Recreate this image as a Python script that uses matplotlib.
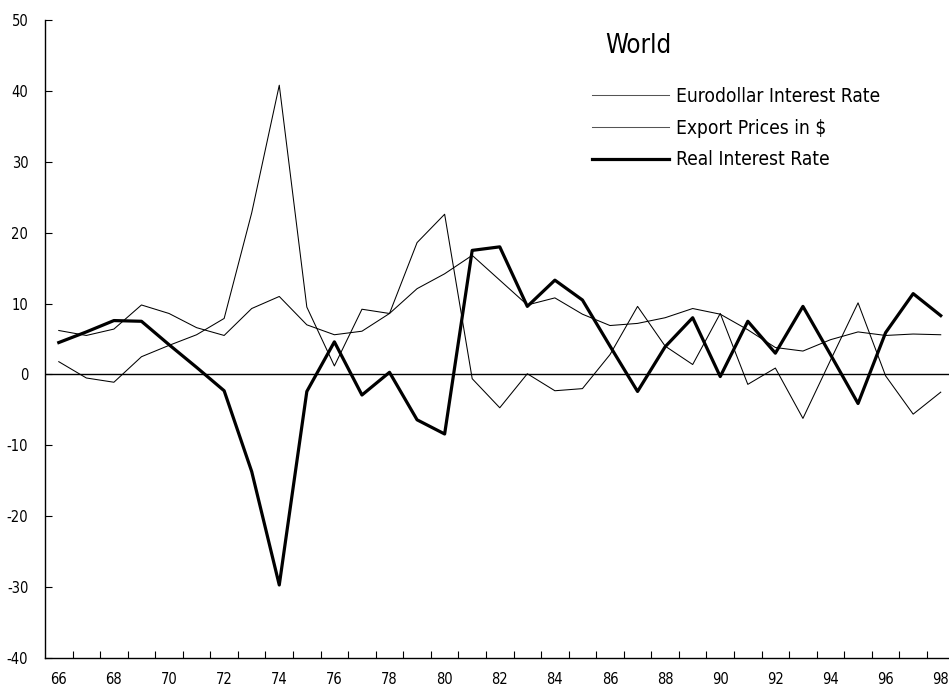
import matplotlib
matplotlib.use("Agg")
import matplotlib.pyplot as plt
from matplotlib.ticker import FixedLocator, MultipleLocator

plt.rcParams['font.family'] = ['DejaVu Sans']
plt.rcParams['font.stretch'] = 'condensed'
plt.rcParams['axes.unicode_minus'] = False

years = list(range(66, 99))
eurodollar = [6.2, 5.5, 6.4, 9.8, 8.6, 6.6, 5.5, 9.3, 11.0, 7.0, 5.6, 6.1, 8.6, 12.1, 14.2, 16.8,
              13.3, 9.8, 10.8, 8.5, 6.9, 7.2, 8.0, 9.3, 8.5, 6.3, 3.8, 3.3, 4.9, 6.0, 5.5, 5.7, 5.6]
export_prices = [1.8, -0.5, -1.1, 2.5, 4.1, 5.6, 7.9, 22.8, 40.8, 9.5, 1.2, 9.2, 8.6, 18.6, 22.6, -0.6,
                 -4.7, 0.1, -2.3, -2.0, 2.8, 9.6, 4.0, 1.4, 8.6, -1.4, 0.9, -6.2, 2.0, 10.1, -0.2, -5.6, -2.5]
real_rate = [4.5, 6.0, 7.6, 7.5, 4.2, 1.0, -2.3, -13.7, -29.7, -2.4, 4.6, -2.9, 0.3, -6.4, -8.4, 17.5,
             18.0, 9.6, 13.3, 10.5, 4.0, -2.4, 3.9, 8.0, -0.3, 7.5, 3.0, 9.6, 2.8, -4.1, 5.9, 11.4, 8.3]
labels = ['Eurodollar Interest Rate', 'Export Prices in $', 'Real Interest Rate']
title = 'World'

W, H = 949, 691
fig = plt.figure(figsize=(W / 100, H / 100), dpi=100)
ax = fig.add_axes([45 / W, (H - 658) / H, 1 - 45 / W, (658 - 20) / H])

l1, = ax.plot(years, eurodollar, color='black', lw=0.75, label=labels[0])
l2, = ax.plot(years, export_prices, color='black', lw=0.75, label=labels[1])
l3, = ax.plot(years, real_rate, color='black', lw=2.3, label=labels[2])
ax.axhline(0, color='black', lw=1.0)

ax.set_xlim(65.5, 98.3)
ax.set_ylim(-40, 50)

for s in ['top', 'right']:
    ax.spines[s].set_visible(False)
for s in ['left', 'bottom']:
    ax.spines[s].set_linewidth(1.0)

ax.xaxis.set_major_locator(FixedLocator([y for y in years if y % 2 == 0]))
ax.xaxis.set_major_formatter(plt.FuncFormatter(lambda v, p: f"{int(v)}"))
ax.xaxis.set_minor_locator(FixedLocator([y + 0.5 for y in years]))
ax.tick_params(axis='x', which='major', length=0, labelsize=10.5, pad=10)
ax.tick_params(axis='x', which='minor', direction='in', length=5, width=0.8)
ax.yaxis.set_major_locator(MultipleLocator(10))
ax.tick_params(axis='y', direction='in', length=5, width=0.8, labelsize=10.5, pad=12)

fig.text(605 / W, 1 - 46 / H, title, fontsize=18.5, va='center', ha='left')
leg = ax.legend(handles=[l1, l2, l3], loc='upper left', bbox_to_anchor=(592 / W, 1 - 87 / H),
                bbox_transform=fig.transFigure, frameon=False, fontsize=13.8,
                handlelength=4.0, handletextpad=0.4, labelspacing=0.66, borderpad=0, borderaxespad=0)
for h in leg.legend_handles[:2]:
    h.set_color('#555555')

fig.savefig('out.png', dpi=100)
